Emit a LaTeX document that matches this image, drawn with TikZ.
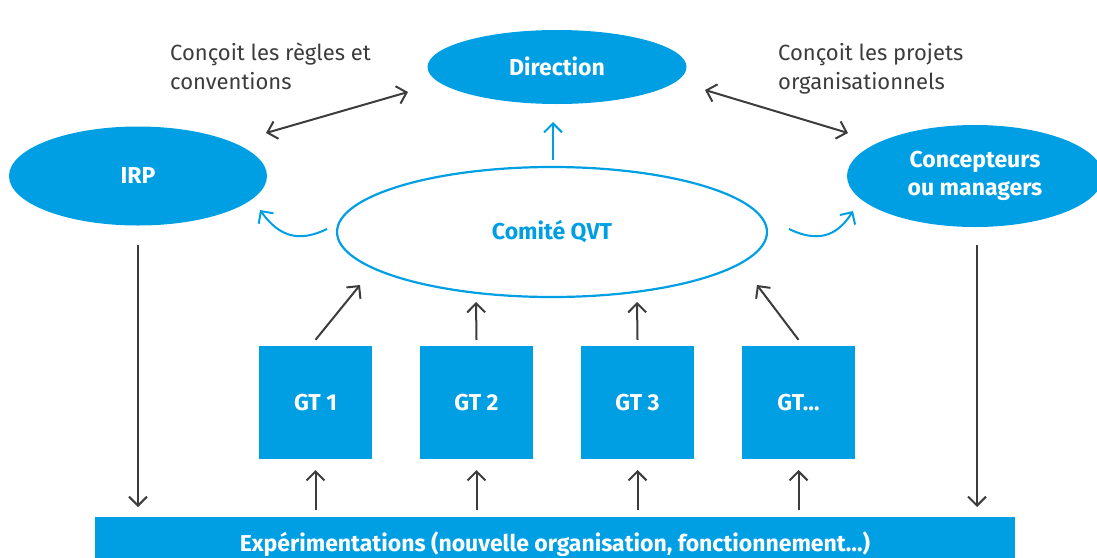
\documentclass[tikz,border=0pt]{standalone}
\usepackage{fontspec}
\setmainfont{Fira Sans}
\usetikzlibrary{arrows.meta,shapes.geometric}
\definecolor{qblue}{HTML}{009FE3}
\definecolor{qgray}{HTML}{3C3C3C}
\begin{document}
\begin{tikzpicture}[x=1pt,y=-1pt,
  tip/.tip={Straight Barb[length=9pt,width=18pt,line width=2pt]},
  bluefill/.style={ellipse,fill=qblue,text=white,font=\bfseries\fontsize{23}{28}\selectfont,align=center,inner sep=0pt},
  gtbox/.style={rectangle,fill=qblue,text=white,font=\bfseries\fontsize{23}{28}\selectfont,minimum width=113pt,minimum height=113pt,inner sep=0pt},
  darrow/.style={draw=qgray,line width=2pt,-tip},
  barrow/.style={draw=qblue,line width=2pt,-tip},
  label/.style={text=qgray,font=\fontsize{22}{29}\selectfont,align=left,anchor=north west,inner sep=0pt}]
\useasboundingbox (0,0) rectangle (1097,557);

% main ellipses
\node[bluefill,minimum width=259pt,minimum height=74pt] (dir) at (557,67) {\raisebox{1pt}{Direction}};
\node[bluefill,minimum width=258pt,minimum height=99pt] (irp) at (138,176) {IRP};
\node[bluefill,minimum width=256pt,minimum height=102pt] (con) at (975,176) {\raisebox{-3pt}{\begin{tabular}{@{}c@{}}Concepteurs\\ou managers\end{tabular}}};
\node[ellipse,draw=qblue,line width=2.2pt,minimum width=430pt,minimum height=130pt,
      text=qblue,font=\bfseries\fontsize{23}{28}\selectfont] (qvt) at (552,232) {Comité QVT};

% working groups
\node[gtbox] (gt1) at (315.5,402.5) {GT 1};
\node[gtbox] (gt2) at (476.5,402.5) {GT 2};
\node[gtbox] (gt3) at (637.5,402.5) {GT 3};
\node[gtbox] (gt4) at (798.5,402.5) {GT…};

% experimentation bar
\node[rectangle,fill=qblue,text=white,font=\bfseries\fontsize{23}{28}\selectfont,
      minimum width=920pt,minimum height=54pt,inner sep=0pt] (exp) at (555,544) {\raisebox{1pt}{Expérimentations (nouvelle organisation, fonctionnement…)}};

% side labels
\node[label] (lab1) at (170,43) {Conçoit les règles et\\conventions};
\node[label] (lab2) at (778,43) {Conçoit les projets\\organisationnels};

% arrow end points
\coordinate (dl1) at (266,133); \coordinate (dl2) at (408,92);
\coordinate (dr1) at (705,90);  \coordinate (dr2) at (848,133);
\coordinate (up1) at (553,160); \coordinate (up2) at (553,122);
\coordinate (cl1) at (327,229); \coordinate (cl2) at (260,210);
\coordinate (cr1) at (789,229); \coordinate (cr2) at (853,211);

% double arrows to Direction
\draw[darrow,tip-tip] (dl1) -- (dl2);
\draw[darrow,tip-tip] (dr1) -- (dr2);

% committee to direction and side ellipses
\draw[barrow] (up1) -- (up2);
\draw[barrow] (cl1) .. controls (300,242) and (280,238) .. (cl2);
\draw[barrow] (cr1) .. controls (816,242) and (836,238) .. (cr2);

% groups feed the committee
\draw[darrow] (gt1.north) ++(0,-6) -- (360,285);
\draw[darrow] (gt2.north) ++(0,-6) -- (476,302);
\draw[darrow] (gt3.north) ++(0,-6) -- (637,302);
\draw[darrow] (gt4.north) ++(0,-6) -- (757,285);

% experimentation feeds the groups
\foreach \g in {gt1,gt2,gt3,gt4}{
  \draw[darrow] (\g.south |- 0,510) -- (\g.south |- 0,470);
}

% IRP and designers down to experimentation
\draw[darrow] (irp.south |- 0,245) -- (irp.south |- 0,507);
\draw[darrow] (977,245) -- (977,507);
\end{tikzpicture}
\end{document}
